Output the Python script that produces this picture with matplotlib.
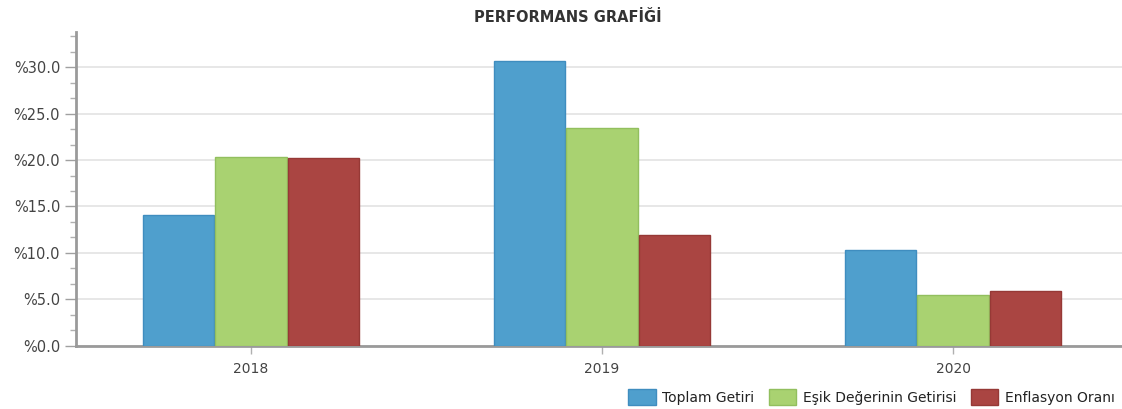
import matplotlib
matplotlib.use("Agg")
import matplotlib.pyplot as plt
from matplotlib.ticker import MultipleLocator, FuncFormatter
from matplotlib.patches import Patch
import numpy as np

years = ["2018", "2019", "2020"]
series_names = ["Toplam Getiri", "Eşik Değerinin Getirisi", "Enflasyon Oranı"]
toplam = [14.13, 30.72, 10.32]
esik = [20.32, 23.48, 5.45]
enflasyon = [20.18, 11.94, 5.91]

colors = ["#4f9fcd", "#a9d271", "#aa4542"]
edges = ["#3f8dbf", "#92bf5e", "#963936"]

fig = plt.figure(figsize=(11.22, 4.09), dpi=100)
ax = fig.add_axes([0.0673, 0.1548, 0.9385, 0.766])

x = np.arange(len(years))
w = 0.203
offs = [-0.206, 0.0, 0.206]
for vals, off, c, e in zip([toplam, esik, enflasyon], offs, colors, edges):
    ax.bar(x + off, vals, width=w, color=c, edgecolor=e, linewidth=1.0, zorder=3)

ax.set_xlim(-0.5, 2.5)
ax.set_ylim(0, 33.75)
ax.yaxis.set_major_locator(MultipleLocator(5))
ax.yaxis.set_minor_locator(MultipleLocator(5 / 3))
ax.yaxis.set_major_formatter(FuncFormatter(lambda v, p: "%{:.1f}".format(v)))
ax.set_xticks(x)
ax.set_xticklabels(years)

ax.grid(axis="y", which="major", color="#e3e3e3", linewidth=1.2, zorder=0)
for s in ["top", "right"]:
    ax.spines[s].set_visible(False)
ax.spines["left"].set_color("#9a9a9a")
ax.spines["left"].set_linewidth(2)
ax.spines["bottom"].set_color("#9a9a9a")
ax.spines["bottom"].set_linewidth(2)

ax.tick_params(axis="y", which="major", length=8, width=1, color="#a0a0a0",
               labelsize=10.5, labelcolor="#444444", pad=3)
ax.tick_params(axis="y", which="minor", length=4, width=1, color="#b0b0b0")
ax.tick_params(axis="x", which="major", length=6, width=1, color="#b0b0b0",
               labelsize=10, labelcolor="#444444", pad=6)

fig.text(568 / 1122, 1 - 17 / 409, "PERFORMANS GRAFİĞİ", ha="center", va="center",
         fontsize=10.5, fontweight="bold", color="#333333")

handles = [Patch(facecolor=c, edgecolor=e) for c, e in zip(colors, edges)]
fig.legend(handles, series_names, loc="lower right", bbox_to_anchor=(1.002, -0.013),
           ncol=3, frameon=False, fontsize=10, handlelength=1.95, handleheight=1.3,
           handletextpad=0.45, columnspacing=1.1, borderaxespad=0.3, labelcolor="#222222")

fig.savefig("out.png", dpi=100)
